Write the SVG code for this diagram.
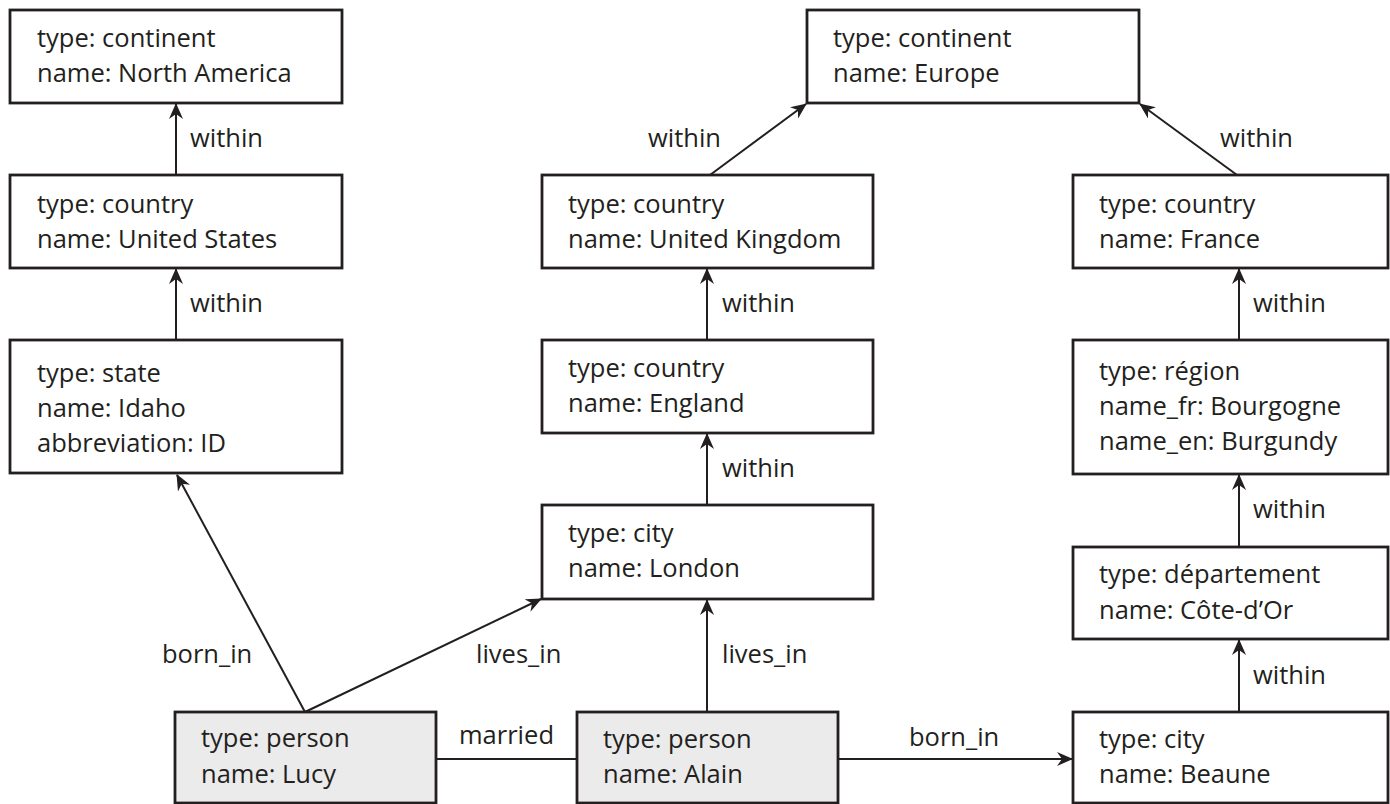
<svg xmlns="http://www.w3.org/2000/svg" width="1390" height="804" viewBox="0 0 1390 804">
<defs>
<marker id="arr" markerUnits="userSpaceOnUse" viewBox="0 0 16 14" markerWidth="16" markerHeight="14" refX="15" refY="7" orient="auto">
<path d="M16,7 L0,0 L5,7 L0,14 Z" fill="#231f20"/>
</marker>
<style>
.box{fill:#fff;stroke:#231f20;stroke-width:2.8}
.person{fill:#ebebeb;stroke:#231f20;stroke-width:2.8}
text{font-family:"Open Sans","Liberation Sans",sans-serif;font-size:25.5px;fill:#231f20}
.edge{stroke:#231f20;stroke-width:2;fill:none}
.arrow{marker-end:url(#arr)}
</style>
</defs>
<rect width="1390" height="804" fill="#fff"/>
<g id="connectors">
<path class="edge arrow" d="M176,175 L176,104"/>
<path class="edge arrow" d="M176,340 L176,269"/>
<path class="edge arrow" d="M710,175 L806,104"/>
<path class="edge arrow" d="M1237,175 L1140,104"/>
<path class="edge arrow" d="M707,340 L707,269"/>
<path class="edge arrow" d="M707,505 L707,434"/>
<path class="edge arrow" d="M1239,340 L1239,269"/>
<path class="edge arrow" d="M1239,547 L1239,475"/>
<path class="edge arrow" d="M1239,712 L1239,640"/>
<path class="edge arrow" d="M305,712 L177,475"/>
<path class="edge arrow" d="M305,712 L541,599"/>
<path class="edge arrow" d="M707,712 L707,600"/>
<path class="edge arrow" d="M838,759 L1072,759"/>
<path class="edge" d="M436,759 L577,759"/>
<text x="190" y="147">within</text>
<text x="190" y="312">within</text>
<text x="648" y="147">within</text>
<text x="1220" y="147">within</text>
<text x="722" y="312">within</text>
<text x="722" y="477">within</text>
<text x="1253" y="312">within</text>
<text x="1253" y="518">within</text>
<text x="1253" y="684">within</text>
<text x="162" y="663">born_in</text>
<text x="476" y="663">lives_in</text>
<text x="722" y="663">lives_in</text>
<text x="459" y="744">married</text>
<text x="909" y="746">born_in</text>
</g>
<g id="north-america"><rect class="box" x="10" y="10" width="332" height="93"/><text x="37" y="47">type: continent</text><text x="37" y="82">name: North America</text></g>
<g id="united-states"><rect class="box" x="10" y="175" width="332" height="93"/><text x="37" y="213">type: country</text><text x="37" y="248">name: United States</text></g>
<g id="idaho"><rect class="box" x="10" y="340" width="332" height="133"/><text x="37" y="382">type: state</text><text x="37" y="417">name: Idaho</text><text x="37" y="452">abbreviation: ID</text></g>
<g id="europe"><rect class="box" x="807" y="10" width="332" height="93"/><text x="833" y="47">type: continent</text><text x="833" y="82">name: Europe</text></g>
<g id="united-kingdom"><rect class="box" x="542" y="175" width="331" height="93"/><text x="568" y="213">type: country</text><text x="568" y="248">name: United Kingdom</text></g>
<g id="england"><rect class="box" x="542" y="340" width="331" height="93"/><text x="568" y="377">type: country</text><text x="568" y="412">name: England</text></g>
<g id="london"><rect class="box" x="542" y="505" width="331" height="94"/><text x="568" y="542">type: city</text><text x="568" y="577">name: London</text></g>
<g id="france"><rect class="box" x="1073" y="175" width="315" height="93"/><text x="1099" y="213">type: country</text><text x="1099" y="248">name: France</text></g>
<g id="bourgogne"><rect class="box" x="1073" y="340" width="315" height="134"/><text x="1099" y="380">type: région</text><text x="1099" y="415">name_fr: Bourgogne</text><text x="1099" y="450">name_en: Burgundy</text></g>
<g id="cote-dor"><rect class="box" x="1073" y="547" width="315" height="92"/><text x="1099" y="583">type: département</text><text x="1099" y="619">name: Côte-d’Or</text></g>
<g id="beaune"><rect class="box" x="1073" y="712" width="315" height="91"/><text x="1099" y="748">type: city</text><text x="1099" y="783">name: Beaune</text></g>
<g id="lucy"><rect class="person" x="175" y="712" width="261" height="91"/><text x="201" y="747">type: person</text><text x="201" y="783">name: Lucy</text></g>
<g id="alain"><rect class="person" x="577" y="712" width="261" height="91"/><text x="603" y="748">type: person</text><text x="603" y="783">name: Alain</text></g>
</svg>
